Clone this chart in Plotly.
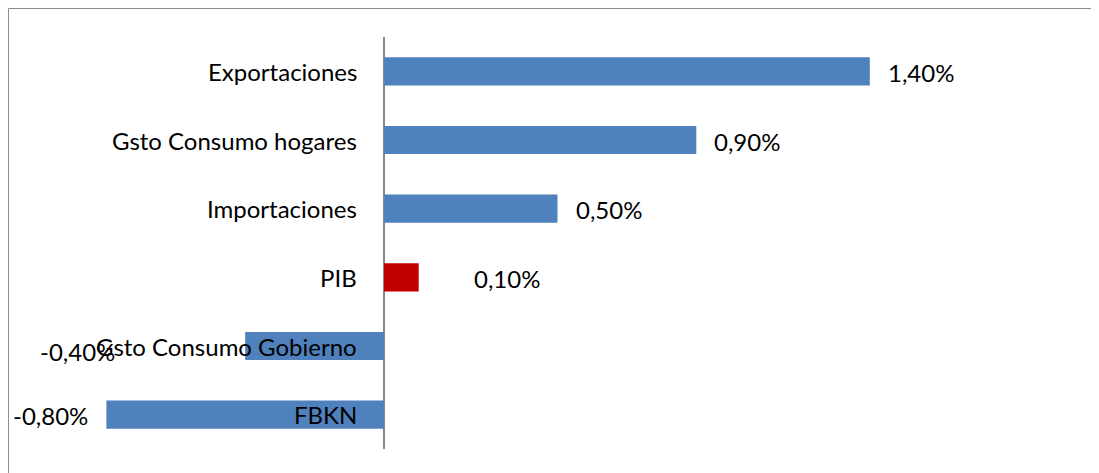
import plotly.graph_objects as go

categories = ["Exportaciones", "Gsto Consumo hogares", "Importaciones", "PIB",
              "Gsto Consumo Gobierno", "FBKN"]
values = [1.40, 0.90, 0.50, 0.10, -0.40, -0.80]
labels = ["1,40%", "0,90%", "0,50%", "0,10%", "-0,40%", "-0,80%"]

BLUE = "#4F81BD"
RED = "#C00000"
FONT = "Lato"

colors = [RED if c == "PIB" else BLUE for c in categories]

# hand-placed data labels in the original (pixel nudges)
label_nudge = {"PIB": (37, 0), "Gsto Consumo Gobierno": (-112, -4)}

fig = go.Figure()
fig.add_trace(go.Bar(
    y=categories, x=values, orientation="h",
    marker=dict(color=colors, line=dict(width=0)),
    width=0.41,
))

for cat, val, lab in zip(categories, values, labels):
    fig.add_annotation(x=0, y=cat, text=cat, showarrow=False,
                       xanchor="right", xshift=-25,
                       font=dict(family=FONT, size=24, color="black"))
    dx, dy = label_nudge.get(cat, (0, 0))
    if val >= 0:
        fig.add_annotation(x=val, y=cat, text=lab, showarrow=False,
                           xanchor="left", xshift=16 + dx, yshift=-1 + dy,
                           font=dict(family=FONT, size=24, color="black"))
    else:
        fig.add_annotation(x=val, y=cat, text=lab, showarrow=False,
                           xanchor="right", xshift=-16 + dx, yshift=-1 + dy,
                           font=dict(family=FONT, size=24, color="black"))

# outer chart border (only top and left edges visible in the original)
fig.add_shape(type="rect", xref="paper", yref="paper",
              x0=-0.0274, x1=1.1, y0=-0.2, y1=1.0692,
              line=dict(color="#8a8a8a", width=1), layer="below")

fig.update_layout(
    width=1091, height=465,
    margin=dict(l=29, r=21, t=29, b=24),
    paper_bgcolor="white", plot_bgcolor="white",
    showlegend=False,
    font=dict(family=FONT, size=24, color="black"),
    xaxis=dict(range=[-1.0, 2.0], showgrid=False, showticklabels=False,
               zeroline=True, zerolinecolor="#868686", zerolinewidth=1.5,
               ticks=""),
    yaxis=dict(categoryorder="array", categoryarray=categories,
               autorange="reversed", showticklabels=False, showgrid=False,
               ticks="", zeroline=False),
)

fig.write_html("out.html")
